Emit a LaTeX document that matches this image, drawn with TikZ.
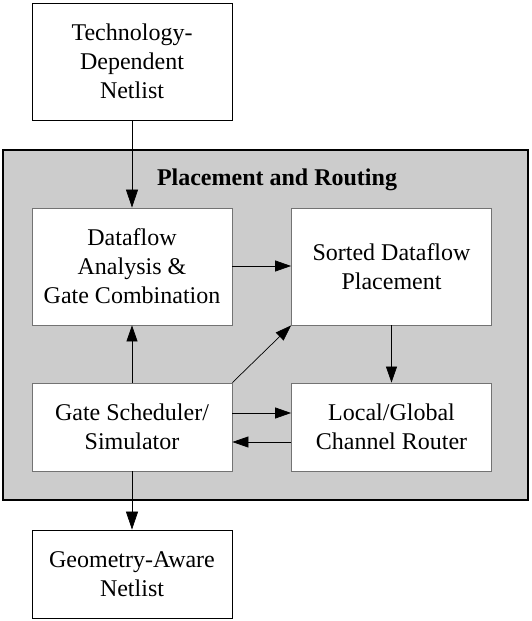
\documentclass[tikz,border=0pt]{standalone}
\usepackage{fontspec}
\setmainfont{Liberation Serif}
\usetikzlibrary{arrows.meta}
\begin{document}
\begin{tikzpicture}[x=1pt,y=-1pt,
  blk/.style={draw=#1,fill=white,line width=0.8pt,minimum width=200pt,align=center,
    font=\fontsize{24}{29}\selectfont,inner sep=0pt},
  blk/.default=black!55,
  arr/.style={line width=0.7pt,-{Triangle[length=18pt,width=12pt]}},
  arrs/.style={line width=0.7pt,-{Triangle[length=16pt,width=11pt]}}]
\useasboundingbox (0,0) rectangle (531,621);
\fill[white] (0,0) rectangle (531,621);
\draw[fill=black!20,line width=1.3pt] (3,150) rectangle (528,500);
\node[font=\fontsize{24}{29}\selectfont\bfseries] (title) at (277,180) {Placement and Routing};
\node[blk=black,minimum height=117pt] (tech) at (132,61.5) {Technology-\\Dependent\\Netlist};
\node[blk,minimum height=117pt] (df) at (132,266.5) {Dataflow\\Analysis \&\\Gate Combination};
\node[blk,minimum height=117pt] (sdp) at (391.5,266.5) {Sorted Dataflow\\Placement};
\node[blk,minimum height=88pt] (gs) at (132,427) {Gate Scheduler/\\Simulator};
\node[blk,minimum height=88pt] (lg) at (391.5,427) {Local/Global\\Channel Router};
\node[blk=black,minimum height=88pt] (geo) at (132,574) {Geometry-Aware\\Netlist};
\draw[arr] (tech.south) -- (df.north);
\draw[arrs] (df.east |- 0,266) -- (sdp.west |- 0,266);
\draw[arrs] (gs.north) -- (df.south);
\draw[arrs] (gs.north east) -- (sdp.south west);
\draw[arrs] (sdp.south) -- (lg.north);
\draw[arrs] (gs.east |- 0,413) -- (lg.west |- 0,413);
\draw[arrs] (lg.west |- 0,442) -- (gs.east |- 0,442);
\draw[arr] (gs.south) -- (geo.north);
\end{tikzpicture}
\end{document}
